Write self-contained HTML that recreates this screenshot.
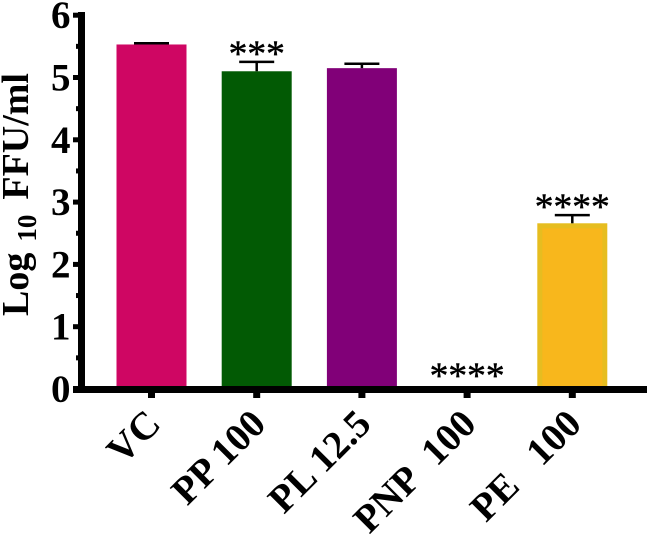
<!DOCTYPE html>
<html>
<head>
<meta charset="utf-8">
<style>
html,body{margin:0;padding:0;background:#fff;width:648px;height:540px;overflow:hidden}
svg{display:block}
text{font-family:"Liberation Serif",serif;font-weight:bold;fill:#000}
</style>
</head>
<body>
<svg id="chart" width="648" height="540" viewBox="0 0 648 540" xmlns="http://www.w3.org/2000/svg">
  <text transform="translate(28,316) rotate(-90)" font-size="38">Log<tspan font-size="27" dx="11" dy="8">10</tspan><tspan dx="15" dy="-8">FFU/ml</tspan></text>
</svg>
<script>
var categories = ['VC', 'PP 100', 'PL 12.5', 'PNP\u00a0 100', 'PE\u00a0\u00a0 100'];
var values = [5.53, 5.10, 5.15, 0, 2.66];
var errors = [0.02, 0.15, 0.07, 0, 0.13];
var colors = ['#cf0663', '#025a04', '#810078', '#ffffff', '#f8b71c'];
var edgeColors = ['', '', '', '', '#e6bd20'];
var stars = ['', '***', '', '****', '****'];
var yTicks = ['0', '1', '2', '3', '4', '5', '6'];
var yMinorTicks = [0.5, 1.5, 2.5, 3.5, 4.5, 5.5];

var svg = document.getElementById('chart');
var NS = 'http://www.w3.org/2000/svg';
function y(v) { return 389 - v * 62.3; }
function x(i) { return 151.5 + i * 105.2; }
function make(tag, attrs) {
  var el = document.createElementNS(NS, tag);
  for (var k in attrs) el.setAttribute(k, attrs[k]);
  return el;
}

values.forEach(function (v, i) {
  if (v <= 0) return;
  var bar = make('rect', {x: x(i) - 35, y: y(v), width: 70, height: y(0) - y(v), fill: edgeColors[i] || colors[i]});
  
  
  svg.appendChild(bar);
  if (edgeColors[i]) {
    var inner = make('rect', {x: x(i) - 30, y: y(v) + 5, width: 60, height: y(0) - y(v) - 5, fill: colors[i]});
    
    
    svg.appendChild(inner);
  }
  var stem = make('line', {x1: x(i), x2: x(i), y1: y(v), y2: y(v + errors[i]), stroke: '#000', 'stroke-width': 2.5});
  
  
  svg.appendChild(stem);
  var cap = make('line', {x1: x(i) - 17.5, x2: x(i) + 17.5, y1: y(v + errors[i]), y2: y(v + errors[i]), stroke: '#000', 'stroke-width': 2.5});
  
  
  svg.appendChild(cap);
});

stars.forEach(function (s, i) {
  if (!s) return;
  var base = values[i] > 0 ? y(values[i] + errors[i]) + 4 : y(0) - 1;
  var t = make('text', {x: x(i), y: base, 'text-anchor': 'middle', 'font-size': 37.5, stroke: '#000', 'stroke-width': 0.5, style: 'font-weight:normal'});
  t.textContent = s;
  
  
  svg.appendChild(t);
});

var yAxis = make('rect', {x: 78, y: 12, width: 7, height: 380, fill: '#000'});


svg.appendChild(yAxis);

var xAxis = make('rect', {x: 73, y: 386, width: 574, height: 7, fill: '#000'});


svg.appendChild(xAxis);

yTicks.forEach(function (label) {
  var v = Number(label);
  var tick = make('rect', {x: 73, y: y(v) - 2.5, width: 6, height: 5, fill: '#000'});
  
  
  svg.appendChild(tick);
  var t = make('text', {x: 70.5, y: y(v) + 13, 'text-anchor': 'end', 'font-size': 39});
  t.textContent = label;
  
  
  svg.appendChild(t);
});

yMinorTicks.forEach(function (v) {
  var tick = make('rect', {x: 76, y: y(v) - 2.5, width: 3, height: 5, fill: '#000'});
  
  
  svg.appendChild(tick);
});

categories.forEach(function (c, i) {
  var tick = make('rect', {x: x(i) - 3.5, y: 392, width: 7, height: 6, fill: '#000'});
  
  
  svg.appendChild(tick);
  var px = x(i) + 11, py = 426;
  var t = make('text', {x: px, y: py, 'text-anchor': 'end', 'font-size': 39, transform: 'rotate(-45 ' + px + ' ' + py + ')'});
  t.textContent = c;
  
  
  svg.appendChild(t);
});
</script>
</body>
</html>
